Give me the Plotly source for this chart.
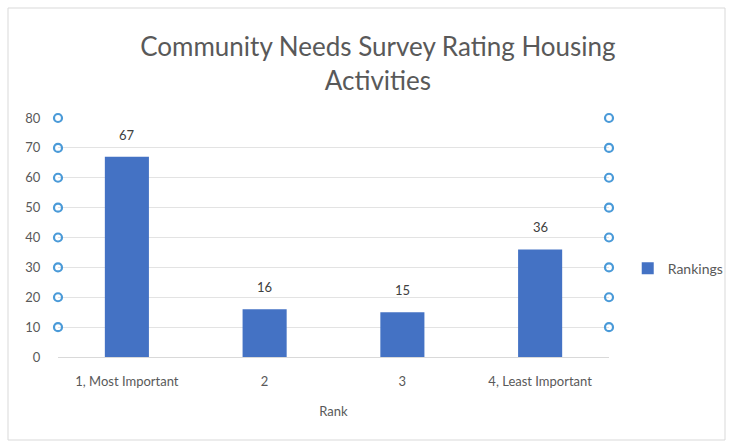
import plotly.graph_objects as go

# Survey results: number of respondents per rank
ranks = ["1, Most Important", "2", "3", "4, Least Important"]
rankings = [67, 16, 15, 36]

# Gridline values on the value axis (handle markers sit at each end)
grid_values = [10, 20, 30, 40, 50, 60, 70, 80]
y_ticks = [0, 10, 20, 30, 40, 50, 60, 70, 80]

FONT = "Lato"
GREY = "#595959"

fig = go.Figure()

fig.add_trace(go.Bar(
    x=ranks,
    y=rankings,
    name="Rankings",
    marker=dict(color="#4472C4", line=dict(width=0)),
    width=0.32,
))

# Value labels above each bar (x given as category index)
for i, v in enumerate(rankings):
    fig.add_annotation(
        x=i, y=v, text=str(v), showarrow=False,
        yanchor="bottom", yshift=12,
        font=dict(family=FONT, size=13, color="#404040"),
    )

# Round handles at both ends of each gridline
fig.add_trace(go.Scatter(
    x=[0] * len(grid_values) + [1] * len(grid_values),
    y=grid_values + grid_values,
    xaxis="x2",
    mode="markers",
    marker=dict(symbol="circle-open", size=8, color="#4A9AD8",
                line=dict(width=2.2, color="#4A9AD8")),
    showlegend=False,
    hoverinfo="skip",
    cliponaxis=False,
))

fig.update_layout(
    width=731,
    height=444,
    paper_bgcolor="white",
    plot_bgcolor="white",
    margin=dict(l=58, r=122, t=118, b=87, autoexpand=False),
    title=dict(
        text="Community Needs Survey Rating Housing<br>Activities",
        x=0.517,
        xanchor="center",
        y=0.874,
        yanchor="top",
        font=dict(family=FONT, size=26, color=GREY),
    ),
    font=dict(family=FONT, color=GREY),
    xaxis=dict(
        title=dict(text="Rank", font=dict(family=FONT, size=13, color=GREY), standoff=19),
        tickfont=dict(family=FONT, size=13, color=GREY),
        showgrid=False,
        showline=True,
        linecolor="#D9D9D9",
        linewidth=1,
        ticks="outside",
        ticklen=12,
        tickcolor="rgba(0,0,0,0)",
    ),
    xaxis2=dict(
        overlaying="x",
        range=[0, 1],
        visible=False,
    ),
    yaxis=dict(
        range=[0, 80],
        tickvals=y_ticks,
        tickfont=dict(family=FONT, size=13, color=GREY),
        showgrid=True,
        gridcolor="#E3E3E3",
        gridwidth=1,
        zeroline=False,
        showline=False,
        ticks="outside",
        ticklen=14,
        tickcolor="rgba(0,0,0,0)",
    ),
    legend=dict(
        x=1.034,
        y=0.37,
        xanchor="left",
        yanchor="middle",
        font=dict(family=FONT, size=14, color=GREY),
        bgcolor="rgba(0,0,0,0)",
        itemwidth=30,
    ),
    shapes=[dict(
        type="rect", xref="paper", yref="paper",
        x0=-50 / 551, x1=1 + 116 / 551,
        y0=-83 / 239, y1=1 + 110 / 239,
        line=dict(color="#D9D9D9", width=1),
        fillcolor="rgba(0,0,0,0)",
        layer="below",
    )],
)

fig.write_html("out.html")
